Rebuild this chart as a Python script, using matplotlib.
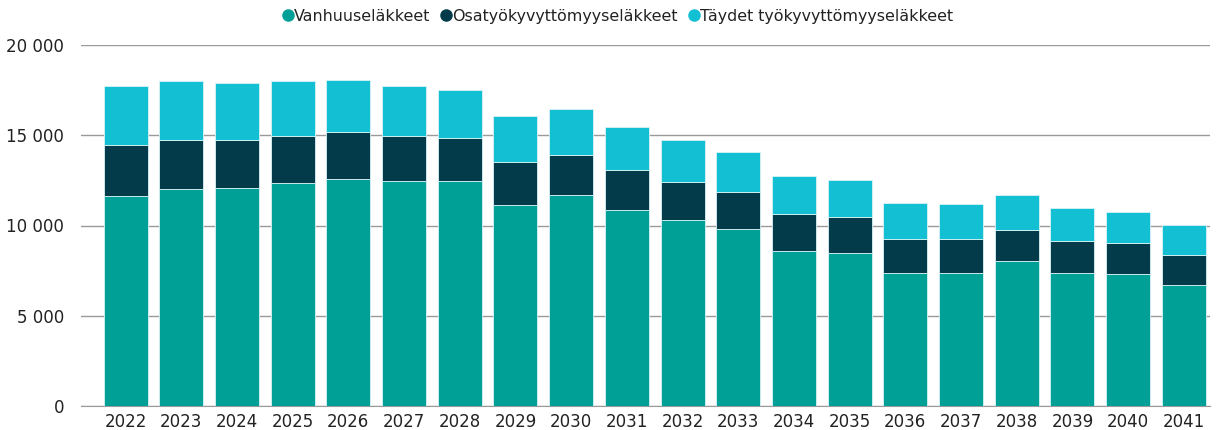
import numpy as np
import matplotlib.pyplot as plt
from matplotlib.ticker import FuncFormatter

# Data
years = [str(y) for y in range(2022, 2042)]
vanhuus = [11630, 12020, 12080, 12350, 12580, 12470, 12470, 11140, 11690, 10860,
           10300, 9810, 8590, 8480, 7370, 7370, 8030, 7370, 7330, 6720]
osatyo = [2830, 2720, 2660, 2610, 2600, 2490, 2380, 2380, 2220, 2210,
          2110, 2050, 2050, 1990, 1880, 1880, 1740, 1770, 1710, 1650]
taydet = [3270, 3260, 3160, 3040, 2880, 2770, 2660, 2550, 2540, 2390,
          2330, 2210, 2100, 2050, 2000, 1940, 1900, 1830, 1710, 1660]
labels = ['Vanhuuseläkkeet', 'Osatyökyvyttömyyseläkkeet', 'Täydet työkyvyttömyyseläkkeet']
colors = ['#00A096', '#043B4A', '#12BFD3']

plt.rcParams['font.family'] = ['DejaVu Sans']

fig = plt.figure(figsize=(12.24, 4.3), dpi=100)
ax = fig.add_axes([81 / 1224, 1 - 406 / 430, (1210 - 81) / 1224, (406 - 45) / 430])

x = np.arange(len(years))
w = 0.79
bottom = np.zeros(len(years))
for vals, lab, col in zip([vanhuus, osatyo, taydet], labels, colors):
    ax.bar(x, vals, w, bottom=bottom, color=col, label=lab,
           edgecolor='#d8f4f6', linewidth=0.6, zorder=3)
    bottom += np.array(vals)

ax.set_ylim(0, 20000)
ax.set_xlim(-0.80, 19.47)
ax.set_yticks(range(0, 20001, 5000))
ax.yaxis.set_major_formatter(FuncFormatter(lambda v, p: f'{int(v):,}'.replace(',', ' ')))
ax.set_xticks(x)
ax.set_xticklabels(years)
ax.grid(axis='y', color='#9a9a9a', linewidth=1, zorder=0)
for s in ['top', 'right', 'left']:
    ax.spines[s].set_visible(False)
ax.spines['bottom'].set_color('#9a9a9a')
ax.tick_params(axis='both', length=0, labelsize=12, colors='#222222')
ax.tick_params(axis='y', pad=12)
ax.tick_params(axis='x', pad=5)

handles = [plt.Line2D([], [], marker='o', linestyle='', color=c, markersize=8) for c in colors]
fig.legend(handles, labels, loc='center', bbox_to_anchor=(0.503, 0.962), ncol=3,
           frameon=False, handletextpad=-0.2, columnspacing=0.4, handlelength=1.2,
           labelcolor='#222222',
           prop={'family': ['Liberation Sans Narrow', 'DejaVu Sans'], 'size': 11.4})

fig.savefig('out.png', dpi=100)
